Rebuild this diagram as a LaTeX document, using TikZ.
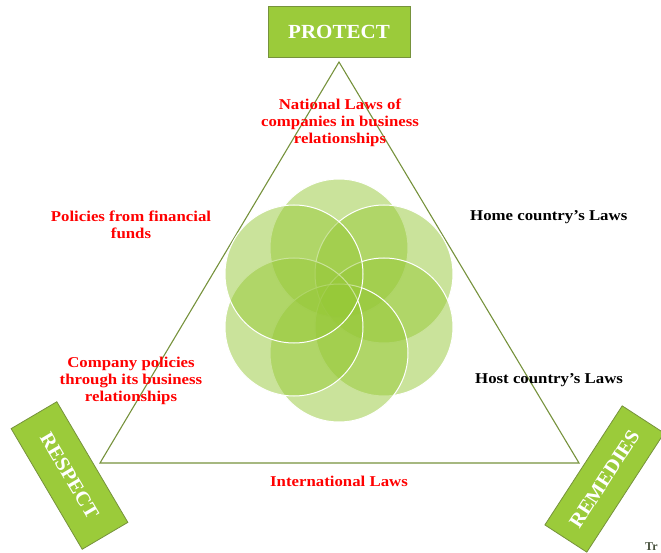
\documentclass[tikz,border=0pt]{standalone}
\usepackage{fontspec}
\setmainfont{Liberation Serif}
\newfontfamily\lblfont[FakeStretch=1.12]{Liberation Serif}
\newfontfamily\boxfont[FakeStretch=1.05]{Liberation Serif}
\definecolor{boxgreen}{RGB}{155,203,58}
\definecolor{boxline}{RGB}{118,146,60}
\definecolor{circgreen}{RGB}{150,200,55}
\definecolor{lblred}{RGB}{255,0,0}
\definecolor{trgray}{RGB}{70,80,60}
\begin{document}
\begin{tikzpicture}[x=1pt,y=-1pt,
  boxlabel/.style={draw=boxline,line width=0.8pt,fill=boxgreen,text=white,font=\boxfont\fontsize{20}{22}\selectfont\bfseries,inner sep=0pt},
  redlabel/.style={text=lblred,font=\lblfont\fontsize{15}{17}\selectfont\bfseries,align=center,inner sep=0pt},
  blacklabel/.style={text=black,font=\lblfont\fontsize{15}{17}\selectfont\bfseries,anchor=west,inner sep=0pt},
  petal/.style={fill=circgreen,fill opacity=0.5,draw=white,line width=1pt}]
\useasboundingbox (0,0) rectangle (661,553);
% triangle
\coordinate (apex) at (339,62);
\coordinate (bl) at (100,463);
\coordinate (br) at (579,463);
\draw[boxline,line width=1.1pt] (apex) -- (bl) -- (br) -- cycle;
% circles
\foreach \n/\cx/\cy in {c1/339/248, c2/384/274, c3/384/327, c4/339/353, c5/294/327, c6/294/274}{
  \path[petal] (\cx,\cy) circle (69);
}
% boxes
\node[boxlabel,minimum width=142pt,minimum height=51pt] (protect) at (339,31.5) {PROTECT};
\node[boxlabel,minimum width=140pt,minimum height=53pt,rotate=-59.5] (respect) at (69.5,475.5) {RESPECT};
\node[boxlabel,minimum width=142pt,minimum height=50pt,rotate=57] (remedies) at (604.5,479) {REMEDIES};
% labels
\node[redlabel] (natl) at (340,123) {National Laws of\\companies in business\\relationships};
\node[redlabel] (funds) at (131,225) {Policies from financial\\funds};
\node[redlabel] (comp) at (131,381) {Company policies\\through its business\\relationships};
\node[redlabel] (intl) at (339,481) {International Laws};
\node[blacklabel] (home) at (470,217) {Home country’s Laws};
\node[blacklabel] (host) at (475,380) {Host country’s Laws};
\node[text=trgray,font=\fontsize{12}{14}\selectfont\bfseries,anchor=west,inner sep=0pt] (tr) at (645,547) {Tr};
\end{tikzpicture}
\end{document}
